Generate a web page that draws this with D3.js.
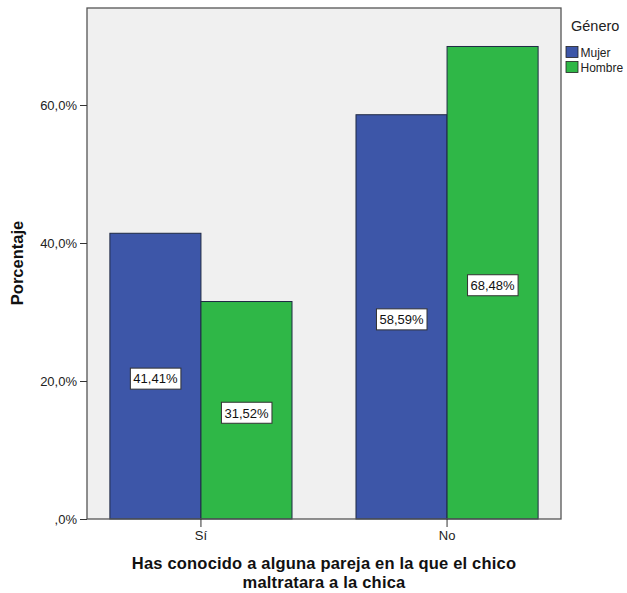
<!DOCTYPE html>
<html>
<head>
<meta charset="utf-8">
<script src="https://cdn.jsdelivr.net/npm/d3@7"></script>
<style>
  body { margin: 0; background: #fff; }
  svg { display: block; font-family: Arial, "Liberation Sans", sans-serif; }
</style>
</head>
<body>
<svg id="chart" width="627" height="593"></svg>
<script>
const categories = ["Sí", "No"];
const seriesNames = ["Mujer", "Hombre"];
const mujerValues = [41.41, 58.59];
const hombreValues = [31.52, 68.48];
const yTicks = [0, 20, 40, 60];
const yTickLabels = [",0%", "20,0%", "40,0%", "60,0%"];
const colors = ["#3d56a8", "#2fb747"];
const legendTitle = "Género";
const yTitle = "Porcentaje";
const xTitleLines = ["Has conocido a alguna pareja en la que el chico", "maltratara a la chica"];

const FONT = "Arial, 'Liberation Sans', sans-serif";
const svg = d3.select("#chart");
const plot = { left: 87, top: 8, right: 561, bottom: 519 };

const x = d3.scaleBand().domain(categories).range([plot.left, plot.right]).paddingInner(0.26).paddingOuter(0.093);
const xs = d3.scaleBand().domain(seriesNames).range([0, x.bandwidth()]);
const y = d3.scaleLinear().domain([0, 20]).range([plot.bottom, 381]);

// plot background
svg.append("rect")
  .attr("x", plot.left).attr("y", plot.top)
  .attr("width", plot.right - plot.left).attr("height", plot.bottom - plot.top)
  .attr("fill", "#f0f0f0").attr("stroke", "none");

const data = categories.map((c, i) => ({ cat: c, values: [mujerValues[i], hombreValues[i]] }));

const groups = svg.append("g").selectAll("g").data(data).join("g")
  .attr("transform", d => `translate(${x(d.cat)},0)`);

groups.selectAll("rect").data(d => d.values.map((v, j) => ({ v, s: seriesNames[j], j })))
  .join("rect")
  .attr("x", d => xs(d.s))
  .attr("y", d => y(d.v))
  .attr("width", xs.bandwidth())
  .attr("height", d => y(0) - y(d.v))
  .attr("fill", d => colors[d.j])
  .attr("stroke", "#1f2a44").attr("stroke-width", 1);

// value labels
const fmt = v => v.toFixed(2).replace(".", ",") + "%";
groups.each(function(d) {
  const g = d3.select(this);
  d.values.forEach((v, j) => {
    const cx = xs(seriesNames[j]) + xs.bandwidth() / 2;
    const cy = y(v / 2) + 2.5;
    const lg = g.append("g");
    const t = lg.append("text")
      .attr("x", cx).attr("y", cy + 4.8)
      .attr("text-anchor", "middle")
      .attr("font-size", 13).attr("fill", "#111")
      .text(fmt(v));
    const bb = t.node().getBBox();
    lg.insert("rect", "text")
      .attr("x", bb.x - 3).attr("y", cy - 10.5)
      .attr("width", bb.width + 6).attr("height", 21)
      .attr("fill", "#fff").attr("stroke", "#333").attr("stroke-width", 1);
  });
});

// frame
svg.append("rect")
  .attr("x", plot.left).attr("y", plot.top)
  .attr("width", plot.right - plot.left).attr("height", plot.bottom - plot.top)
  .attr("fill", "none").attr("stroke", "#555").attr("stroke-width", 1.3);

// y axis
const yAxis = d3.axisLeft(y).tickValues(yTicks).tickSize(7).tickPadding(3)
  .tickFormat((d, i) => yTickLabels[i]);
const gy = svg.append("g").attr("transform", `translate(${plot.left},0)`).call(yAxis);
gy.select(".domain").remove();
gy.selectAll("line").attr("stroke", "#333");
gy.selectAll("text").attr("font-size", 13).attr("fill", "#222").attr("font-family", FONT);

// x axis
const xAxis = d3.axisBottom(x).tickSize(8).tickPadding(4);
const gx = svg.append("g").attr("transform", `translate(0,${plot.bottom})`).call(xAxis);
gx.select(".domain").remove();
gx.selectAll("line").attr("stroke", "#333");
gx.selectAll("text").attr("font-size", 13).attr("fill", "#222").attr("font-family", FONT);

// y title
svg.append("text")
  .attr("transform", "translate(23,263) rotate(-90)")
  .attr("text-anchor", "middle")
  .attr("font-size", 16.5).attr("font-weight", "bold").attr("fill", "#111")
  .text(yTitle);

// x title (two lines)
svg.append("g").selectAll("text").data(xTitleLines).join("text")
  .attr("x", 324).attr("y", (d, i) => 569 + i * 18.6)
  .attr("text-anchor", "middle")
  .attr("font-size", 16.5).attr("font-weight", "bold").attr("fill", "#111")
  .attr("letter-spacing", 0.2)
  .text(d => d);

// legend
svg.append("text")
  .attr("x", 571).attr("y", 31)
  .attr("font-size", 14.5).attr("fill", "#222")
  .text(legendTitle);
const lg = svg.append("g").selectAll("g").data(seriesNames).join("g")
  .attr("transform", (d, i) => `translate(566,${46.5 + i * 15})`);
lg.append("rect").attr("width", 12).attr("height", 11)
  .attr("fill", (d, i) => colors[i]).attr("stroke", "#222").attr("stroke-width", 0.8);
lg.append("text").attr("x", 14.5).attr("y", 10.5)
  .attr("font-size", 12).attr("fill", "#222").text(d => d);
</script>
</body>
</html>
